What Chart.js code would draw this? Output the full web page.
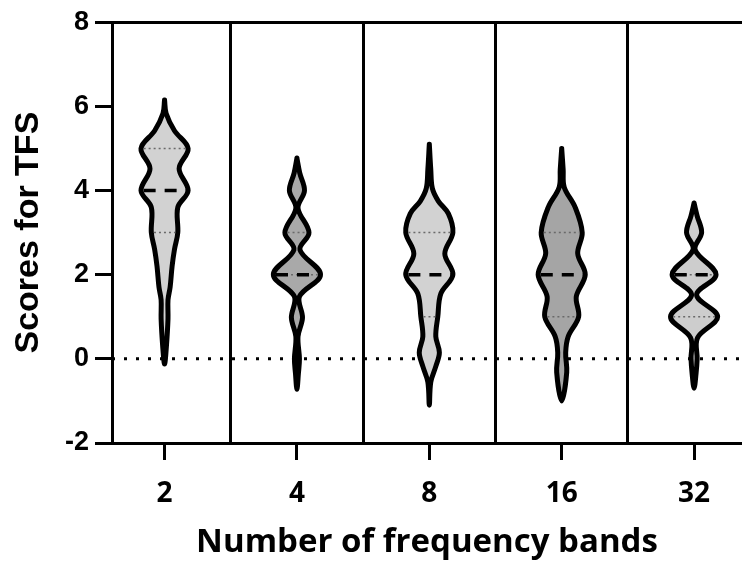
<!DOCTYPE html>
<html>
<head>
<meta charset="utf-8">
<script src="https://cdn.jsdelivr.net/npm/chart.js@4.4.1/dist/chart.umd.min.js"></script>
<style>
  html, body { margin: 0; padding: 0; background: #ffffff; }
  #wrap { width: 742px; height: 563px; }
</style>
</head>
<body>
<div id="wrap"><canvas id="c" width="742" height="563"></canvas></div>
<script>
// ---- Data ----
const categories = ['2', '4', '8', '16', '32'];
const yTicks = [-2, 0, 2, 4, 6, 8];

// Violin outlines: score levels (top -> bottom) and half-widths (in category units)
const levels_2  = [6.15, 5.83, 5.42, 5.0, 4.52, 4.0, 3.6, 3.0, 2.6, 2.2, 1.7, 1.4, 0.95, 0.3, -0.12];
const widths_2  = [0, 0.012, 0.075, 0.178, 0.11, 0.178, 0.10, 0.10, 0.075, 0.057, 0.042, 0.026, 0.026, 0.014, 0];

const levels_4  = [4.77, 4.42, 4.0, 3.58, 3.0, 2.59, 2.0, 1.48, 0.98, 0.53, 0.0, -0.35, -0.72];
const widths_4  = [0, 0.021, 0.057, 0.008, 0.091, 0.023, 0.178, 0.019, 0.042, 0.008, 0.019, 0.011, 0];

const levels_8  = [5.1, 4.5, 4.05, 3.75, 3.45, 3.0, 2.5, 2.0, 1.55, 1.0, 0.53, 0.15, -0.18, -0.55, -1.1];
const widths_8  = [0, 0.011, 0.023, 0.068, 0.144, 0.178, 0.117, 0.178, 0.087, 0.064, 0.049, 0.076, 0.049, 0.011, 0];

const levels_16 = [5.0, 4.5, 4.08, 3.6, 3.0, 2.5, 2.0, 1.48, 1.0, 0.53, 0.15, -0.32, -1.0];
const widths_16 = [0, 0.011, 0.019, 0.102, 0.155, 0.121, 0.178, 0.11, 0.128, 0.049, 0.03, 0.038, 0];

const levels_32 = [3.7, 3.4, 3.0, 2.59, 2.0, 1.52, 1.0, 0.5, 0.0, -0.35, -0.7];
const widths_32 = [0, 0.023, 0.057, 0.008, 0.166, 0.019, 0.178, 0.026, 0.023, 0.015, 0];

const medians        = [4, 2, 2, 2, 2];
const upperQuartiles = [5, 3, 3, 3, 2];
const lowerQuartiles = [3, 2, 1, 1, 1];
const referenceLine  = 0;

// ---- Styles ----
const violinFills = ['#d2d2d2', '#a9a9a9', '#d2d2d2', '#a5a5a5', '#cdcdcd'];
const X_MIN = -0.397, X_MAX = 4.362;

const levelSets = [levels_2, levels_4, levels_8, levels_16, levels_32];
const widthSets = [widths_2, widths_4, widths_8, widths_16, widths_32];

function widthAt(lv, wd, y) {
  for (let i = 0; i < lv.length - 1; i++) {
    const a = lv[i], b = lv[i + 1];
    if ((y <= a && y >= b)) {
      const t = (a - y) / (a - b);
      return wd[i] + t * (wd[i + 1] - wd[i]);
    }
  }
  return 0;
}

const datasets = [];

// dotted zero line (behind violins)
datasets.push({
  data: [{x: X_MIN, y: referenceLine}, {x: X_MAX, y: referenceLine}],
  showLine: true, borderColor: '#000', borderWidth: 3, borderDash: [3, 9],
  borderCapStyle: 'butt', pointRadius: 0, fill: false, tension: 0, order: 10
});

categories.forEach((cat, k) => {
  const lv = levelSets[k], wd = widthSets[k];
  const pts = [];
  for (let i = 0; i < lv.length; i++) pts.push({x: k + wd[i], y: lv[i]});
  for (let i = lv.length - 2; i >= 0; i--) pts.push({x: k - wd[i], y: lv[i]});
  datasets.push({
    data: pts, showLine: true, fill: 'shape',
    backgroundColor: violinFills[k], borderColor: '#000', borderWidth: 5,
    borderJoinStyle: 'round', borderCapStyle: 'round',
    tension: 0.35, pointRadius: 0, order: 5
  });
  // quartiles
  [lowerQuartiles[k], upperQuartiles[k]].forEach(q => {
    const w = Math.max(widthAt(lv, wd, q) - 0.02, 0);
    datasets.push({
      data: [{x: k - w, y: q}, {x: k + w, y: q}],
      showLine: true, borderColor: '#6a6a6a', borderWidth: 1.5, borderDash: [2, 3],
      pointRadius: 0, fill: false, tension: 0, order: 2
    });
  });
  // median
  const mw = widthAt(lv, wd, medians[k]);
  datasets.push({
    data: [{x: k - mw + 0.02, y: medians[k]}, {x: k + mw, y: medians[k]}],
    showLine: true, borderColor: '#000', borderWidth: 3.5, borderDash: [12, 9],
    borderCapStyle: 'butt', pointRadius: 0, fill: false, tension: 0, order: 1
  });
});

new Chart(document.getElementById('c'), {
  type: 'scatter',
  data: { datasets },
  options: {
    responsive: false,
    animation: false,
    devicePixelRatio: 1,
    layout: { padding: { top: 20, right: 0, bottom: 0, left: 0 } },
    plugins: { legend: { display: false }, tooltip: { enabled: false } },
    scales: {
      x: {
        type: 'linear', position: 'bottom', min: X_MIN, max: X_MAX,
        afterBuildTicks: s => { s.ticks = categories.map((c, i) => ({ value: i })); },
        afterFit: s => { s.height = 120; },
        ticks: {
          callback: v => categories[Math.round(v)],
          color: '#000', padding: 17,
          font: { family: 'Open Sans', size: 28, weight: 'bold' }
        },
        grid: { drawOnChartArea: false, drawTicks: true, tickLength: 17, tickWidth: 3, tickColor: '#000', color: '#000' },
        border: { display: true, color: '#000', width: 3 },
        title: {
          display: true, text: 'Number of frequency bands', color: '#000',
          font: { family: 'Open Sans', size: 33, weight: 'bold' },
          padding: { top: 0, bottom: 1 }
        }
      },
      sep: {
        type: 'linear', position: 'top', min: X_MIN, max: X_MAX,
        afterBuildTicks: s => { s.ticks = categories.slice(1).map((c, i) => ({ value: i + 0.5 })); },
        afterFit: s => { s.height = 0; },
        ticks: { display: false },
        grid: { drawOnChartArea: true, drawTicks: false, color: '#000', lineWidth: 3 },
        border: { display: false }
      },
      y: {
        type: 'linear', position: 'left', min: -2, max: 8,
        afterBuildTicks: s => { s.ticks = yTicks.map(v => ({ value: v })); },
        afterFit: s => { s.width = 112; },
        ticks: {
          color: '#000', padding: 6,
          font: { family: 'Liberation Sans', size: 27, weight: 'bold' }
        },
        grid: {
          drawOnChartArea: true, drawTicks: true, tickLength: 17, tickWidth: 3, tickColor: '#000',
          color: ctx => (ctx.tick && ctx.tick.value === 8) ? '#000' : 'rgba(0,0,0,0)',
          lineWidth: 3
        },
        border: { display: true, color: '#000', width: 3 },
        title: {
          display: true, text: 'Scores for TFS', color: '#000',
          font: { family: 'Liberation Sans', size: 34, weight: 'bold' },
          padding: { top: 8, bottom: 0 }
        }
      }
    }
  }
});
</script>
</body>
</html>
